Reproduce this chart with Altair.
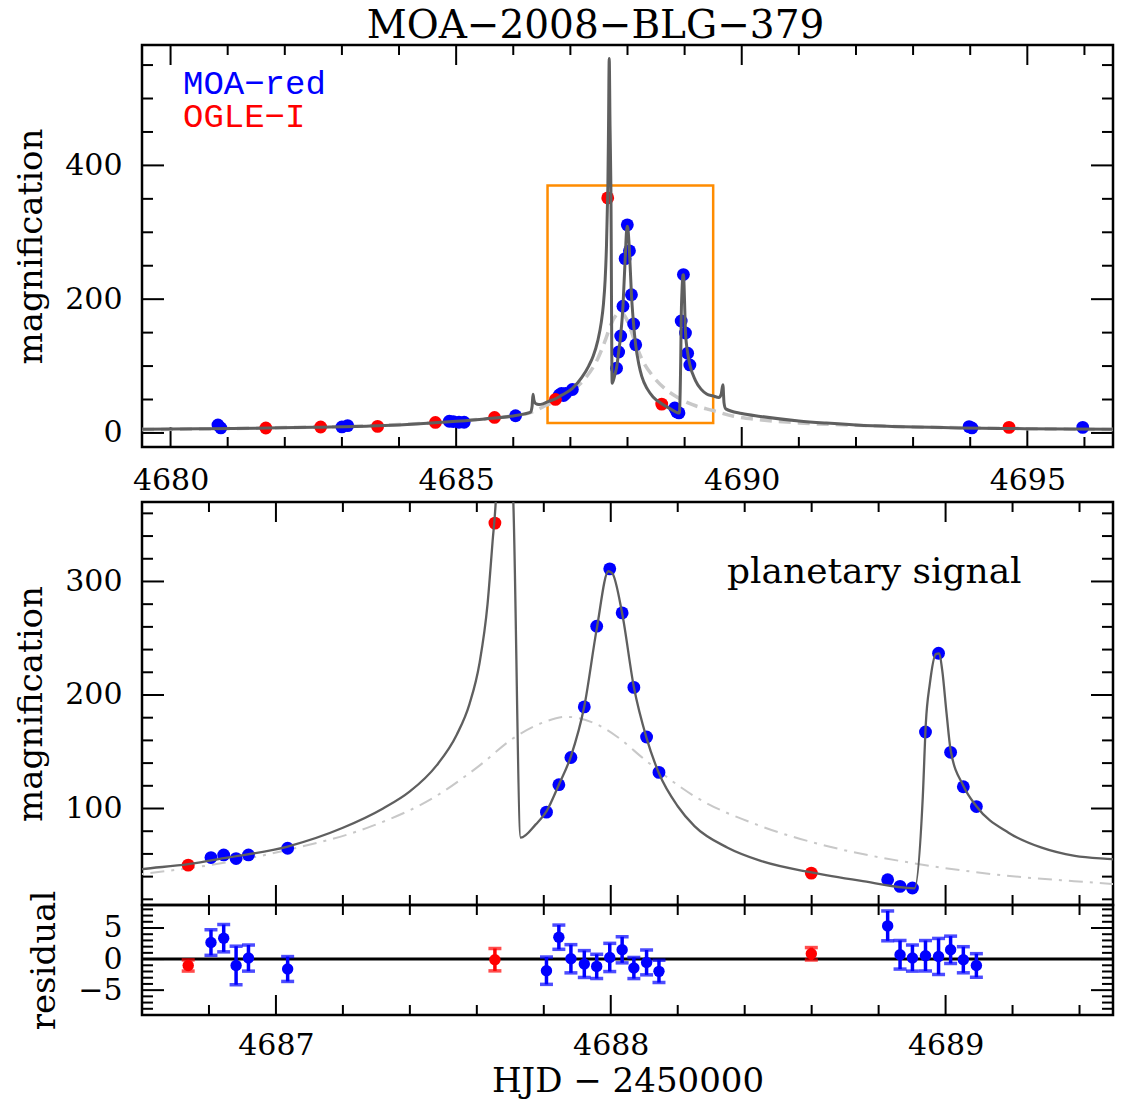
import altair as alt
import pandas as pd

# ---------------- data ----------------
moa_t = [4680.83, 4680.88, 4683.00, 4683.10, 4684.88, 4684.95, 4685.05, 4685.14, 4686.04,
         4686.806, 4686.844, 4686.881, 4686.918, 4687.035,
         4687.808, 4687.845, 4687.881, 4687.921, 4687.958, 4687.997, 4688.034, 4688.069,
         4688.107, 4688.144,
         4688.827, 4688.864, 4688.901, 4688.940, 4688.979, 4689.015, 4689.053, 4689.092,
         4693.98, 4694.03, 4695.97]
moa_A = [12.0, 7.5, 9.0, 11.0, 17.5, 17.0, 16.0, 16.0, 25.7,
         56.8, 59.1, 55.9, 59.1, 65.0,
         96.8, 121.0, 144.9, 189.5, 260.6, 311.1, 272.3, 206.7,
         163.0, 131.8,
         37.3, 31.4, 30.0, 167.4, 236.8, 149.5, 119.2, 101.7,
         9.5, 7.5, 8.3]

ogle_t = [4681.668, 4682.628, 4683.625, 4684.637, 4685.672, 4686.738, 4687.654, 4688.599, 4694.68]
ogle_A = [7.4, 8.9, 9.8, 15.7, 23.2, 50.1, 351.4, 43.1, 8.3]

# residuals (MOA-red)
res_moa_t = [4686.806, 4686.844, 4686.881, 4686.918, 4687.035,
             4687.808, 4687.845, 4687.881, 4687.921, 4687.958, 4687.997, 4688.034, 4688.069,
             4688.107, 4688.144,
             4688.827, 4688.864, 4688.901, 4688.940, 4688.979, 4689.015, 4689.053, 4689.092]
res_moa_r = [2.66, 3.36, -1.03, 0.16, -1.6,
             -1.87, 3.52, 0.05, -0.8, -1.18, 0.26, 1.49, -1.44,
             -0.54, -1.98,
             5.34, 0.69, 0.16, 0.53, 0.42, 1.49, -0.11, -1.03]
res_moa_e = [2.06, 2.2, 3.1, 2.1, 2.0,
             2.2, 1.95, 2.27, 2.16, 1.95, 2.27, 2.1, 1.7,
             2.0, 1.8,
             2.4, 2.3, 2.1, 2.45, 2.9, 2.2, 2.1, 1.9]
# residuals (OGLE-I)
res_ogle_t = [4686.738, 4687.654, 4688.599]
res_ogle_r = [-1.03, -0.1, 0.85]
res_ogle_e = [0.9, 1.8, 1.0]

# planetary (binary-lens) model curve
model_t = [4679.5, 4680.5, 4681.5, 4682.5, 4683.5, 4684.0, 4684.5, 4685.0, 4685.5, 4686.0,
           4686.2, 4686.3, 4686.33, 4686.345, 4686.36, 4686.39, 4686.45, 4686.52, 4686.6,
           4686.738, 4686.85, 4687.035, 4687.2, 4687.32, 4687.40, 4687.48, 4687.54, 4687.578,
           4687.608, 4687.632, 4687.647, 4687.657, 4687.668, 4687.680, 4687.694, 4687.709,
           4687.731, 4687.776, 4687.808, 4687.845, 4687.881, 4687.921, 4687.958, 4687.993,
           4688.005, 4688.034, 4688.069, 4688.107, 4688.144, 4688.2, 4688.25, 4688.349,
           4688.448, 4688.599, 4688.744, 4688.907, 4688.932, 4688.941, 4688.953, 4688.971,
           4688.981, 4688.99, 4689.003, 4689.015, 4689.053, 4689.092, 4689.188, 4689.287,
           4689.386, 4689.497, 4689.60, 4689.64, 4689.67, 4689.69, 4689.72, 4690.0,
           4690.33, 4691.0, 4691.48, 4692.0, 4692.64, 4693.3, 4693.8, 4694.5, 4694.96, 4696.5]
model_A = [5.5, 6.3, 7.2, 8.4, 10.3, 12.0, 14.5, 17.5, 21.0, 25.5,
           28.5, 31.0, 40.0, 58.0, 50.0, 44.0, 42.5, 43.5, 46.6,
           51.0, 56.5, 66.5, 83.0, 100.0, 115.0, 138.0, 165.0, 192.0,
           228.0, 280.0, 335.0, 373.0, 460.0, 560.0, 460.0, 370.0,
           74.3, 86.0, 97.5, 121.0, 146.0, 190.0, 258.0, 309.0,
           307.0, 272.0, 207.0, 162.0, 131.0, 102.0, 84.5, 65.5,
           53.9, 43.7, 36.4, 29.7, 110.8, 174.9, 210.0, 236.0,
           236.7, 221.6, 183.6, 151.6, 120.1, 102.0, 78.7, 65.5,
           58.3, 55.4, 53.0, 58.0, 72.0, 45.0, 36.0, 29.0,
           24.7, 18.0, 14.8, 12.0, 9.8, 8.5, 7.4, 6.8, 6.4, 5.5]

# single-lens model curve
single_t = [4679.5, 4682.0, 4684.0, 4685.0, 4685.5, 4686.0, 4686.3, 4686.6, 4686.8, 4687.035,
            4687.282, 4687.479, 4687.6, 4687.716, 4687.8, 4687.865, 4687.953, 4688.02, 4688.102,
            4688.25, 4688.448, 4688.645, 4688.892, 4689.139, 4689.497, 4689.86, 4690.3, 4691.0,
            4692.0, 4693.0, 4694.0, 4696.5]
single_A = [5.0, 8.0, 12.5, 17.5, 21.0, 25.5, 30.5, 42.2, 50.0, 63.5,
            84.0, 111.0, 136.0, 163.3, 176.0, 180.8, 174.9, 163.0, 142.9,
            110.8, 84.5, 67.0, 52.4, 42.2, 33.5, 25.0, 20.0, 15.0,
            11.5, 9.0, 7.5, 5.0]

# zoom window drawn in the top panel (= domain of the lower panels)
zoom_t = [4686.6, 4689.5]
zoom_A = [15, 370]

title_text = "MOA\u22122008\u2212BLG\u2212379"
legend_labels = ["MOA\u2212red", "OGLE\u2212I"]
note_text = "planetary signal"

top_xlabels = [4680, 4685, 4690, 4695]
top_ylabels = [0, 200, 400]
mid_ylabels = [100, 200, 300]
res_ylabels = [-5, 0, 5]
low_xlabels = [4687, 4688, 4689]

# ---------------- style ----------------
FONT = "DejaVu Serif"
BLUE = "#0000ff"
RED = "#ff0000"
DARK = "#5f5f5f"
LIGHT = "#c8c8c8"
ORANGE = "#ff8c00"
W = 971
H_TOP, H_MID, H_RES = 402, 403, 110

moa = pd.DataFrame({"t": moa_t, "A": moa_A})
ogle = pd.DataFrame({"t": ogle_t, "A": ogle_A})
model = pd.DataFrame({"t": model_t, "A": model_A})
single = pd.DataFrame({"t": single_t, "A": single_A})
rmoa = pd.DataFrame({"t": res_moa_t, "r": res_moa_r, "e": res_moa_e})
rmoa["lo"] = rmoa["r"] - rmoa["e"]
rmoa["hi"] = rmoa["r"] + rmoa["e"]
rogle = pd.DataFrame({"t": res_ogle_t, "r": res_ogle_r, "e": res_ogle_e})
rogle["lo"] = rogle["r"] - rogle["e"]
rogle["hi"] = rogle["r"] + rogle["e"]
box = pd.DataFrame({"t": [zoom_t[0]], "t2": [zoom_t[1]], "A": [zoom_A[0]], "A2": [zoom_A[1]]})


def frange(a, b, step, skip):
    vals = []
    n = int(round((b - a) / step))
    for i in range(n + 1):
        v = round(a + i * step, 4)
        if all(abs(v - s) > 1e-6 for s in skip):
            vals.append(v)
    return vals


def make_panel(xdom, ydom, w, h, xaxis, yaxis, xmaj, xmin, ymaj, ymin,
               xlen=(20, 10), ylen=(22, 11), top_len=None):
    xs = alt.Scale(domain=xdom, nice=False, zero=False)
    ys = alt.Scale(domain=ydom, nice=False, zero=False)

    def X(f):
        return alt.X(f, type="quantitative", scale=xs, axis=xaxis)

    def Y(f):
        return alt.Y(f, type="quantitative", scale=ys, axis=yaxis)

    layers = []
    tl = top_len or xlen
    for vals, L, Lt in ((xmaj, xlen[0], tl[0]), (xmin, xlen[1], tl[1])):
        d = pd.DataFrame({"v": vals})
        layers.append(alt.Chart(d).mark_rule(color="black", strokeWidth=2).encode(
            x=X("v"), y=alt.value(h), y2=alt.value(h - L)))
        layers.append(alt.Chart(d).mark_rule(color="black", strokeWidth=2).encode(
            x=X("v"), y=alt.value(0), y2=alt.value(Lt)))
    for vals, L in ((ymaj, ylen[0]), (ymin, ylen[1])):
        d = pd.DataFrame({"v": vals})
        layers.append(alt.Chart(d).mark_rule(color="black", strokeWidth=2).encode(
            y=Y("v"), x=alt.value(0), x2=alt.value(L)))
        layers.append(alt.Chart(d).mark_rule(color="black", strokeWidth=2).encode(
            y=Y("v"), x=alt.value(w), x2=alt.value(w - L)))
    return X, Y, layers


axis_common = dict(labelFlush=False, labelOverlap=False, labelBound=False, format="d")

# ---------------- top panel ----------------
top_xaxis = alt.Axis(values=top_xlabels, title=None, labelPadding=18, **axis_common)
top_yaxis = alt.Axis(values=top_ylabels, title="magnification", labelPadding=20,
                     titlePadding=16, **axis_common)
X, Y, tl = make_panel([4679.5, 4696.5], [-21, 580], W, H_TOP, top_xaxis, top_yaxis,
                      top_xlabels, frange(4680, 4696, 1, top_xlabels),
                      [0, 200, 400], frange(0, 550, 50, [0, 200, 400]))
top_layers = tl + [
    alt.Chart(box).mark_rect(fill=None, stroke=ORANGE, strokeWidth=2.5).encode(
        x=X("t"), x2="t2", y=Y("A"), y2="A2"),
    alt.Chart(single).mark_line(color=LIGHT, strokeWidth=3.5, strokeDash=[12, 7], clip=True,
                                interpolate="monotone").encode(x=X("t"), y=Y("A")),
    alt.Chart(moa).mark_circle(color=BLUE, opacity=1, size=165).encode(x=X("t"), y=Y("A")),
    alt.Chart(ogle).mark_circle(color=RED, opacity=1, size=165).encode(x=X("t"), y=Y("A")),
    alt.Chart(model).mark_line(color=DARK, strokeWidth=3, clip=True,
                               interpolate="monotone").encode(x=X("t"), y=Y("A")),
    alt.Chart(pd.DataFrame({"s": [legend_labels[0]]})).mark_text(
        align="left", baseline="alphabetic", font="Liberation Mono", fontSize=34, color=BLUE).encode(
        x=alt.value(41), y=alt.value(49), text="s:N"),
    alt.Chart(pd.DataFrame({"s": [legend_labels[1]]})).mark_text(
        align="left", baseline="alphabetic", font="Liberation Mono", fontSize=34, color=RED).encode(
        x=alt.value(41), y=alt.value(82), text="s:N"),
    alt.Chart(pd.DataFrame({"s": [title_text]})).mark_text(
        align="center", baseline="alphabetic", font=FONT, fontSize=39, color="black").encode(
        x=alt.value(W / 2 - 32), y=alt.value(-7), text="s:N"),
]
top = alt.layer(*top_layers).properties(width=W, height=H_TOP)

# ---------------- middle panel ----------------
mid_yaxis = alt.Axis(values=mid_ylabels, title="magnification", labelPadding=20,
                     titlePadding=16, **axis_common)
Xm, Ym, ml = make_panel([4686.6, 4689.5], [15, 370], W, H_MID, None, mid_yaxis,
                        low_xlabels, frange(4686.8, 4689.4, 0.2, low_xlabels),
                        mid_ylabels, frange(20, 360, 20, mid_ylabels))
mid_layers = ml + [
    alt.Chart(single).mark_line(color=LIGHT, strokeWidth=2, strokeDash=[14, 7, 3, 7], clip=True,
                                interpolate="monotone").encode(x=Xm("t"), y=Ym("A")),
    alt.Chart(moa).mark_circle(color=BLUE, opacity=1, size=165, clip=True).encode(x=Xm("t"), y=Ym("A")),
    alt.Chart(ogle).mark_circle(color=RED, opacity=1, size=165, clip=True).encode(x=Xm("t"), y=Ym("A")),
    alt.Chart(model).mark_line(color=DARK, strokeWidth=2.3, clip=True,
                               interpolate="monotone").encode(x=Xm("t"), y=Ym("A")),
    alt.Chart(pd.DataFrame({"s": [note_text]})).mark_text(
        align="left", baseline="alphabetic", font=FONT, fontSize=36, color="black").encode(
        x=alt.value(585), y=alt.value(81), text="s:N"),
]
mid = alt.layer(*mid_layers).properties(width=W, height=H_MID)

# ---------------- residual panel ----------------
res_xaxis = alt.Axis(values=low_xlabels, title="HJD \u2212 2450000", labelPadding=15,
                     titlePadding=4, **axis_common)
res_yaxis = alt.Axis(values=res_ylabels, title="residual", labelPadding=20,
                     titlePadding=16, **axis_common)
Xr, Yr, rl = make_panel([4686.6, 4689.5], [-9, 8.7], W, H_RES, res_xaxis, res_yaxis,
                        low_xlabels, frange(4686.8, 4689.4, 0.2, low_xlabels),
                        res_ylabels, frange(-8, 8, 1, res_ylabels), top_len=(10, 10))
res_layers = rl + [
    alt.Chart(pd.DataFrame({"r": [0]})).mark_rule(color="black", strokeWidth=3).encode(y=Yr("r")),
    alt.Chart(rmoa).mark_rule(color=BLUE, strokeWidth=3.5).encode(x=Xr("t"), y=Yr("lo"), y2="hi"),
    alt.Chart(rmoa).mark_tick(color=BLUE, orient="horizontal", size=13, thickness=3.5).encode(
        x=Xr("t"), y=Yr("lo")),
    alt.Chart(rmoa).mark_tick(color=BLUE, orient="horizontal", size=13, thickness=3.5).encode(
        x=Xr("t"), y=Yr("hi")),
    alt.Chart(rmoa).mark_circle(color=BLUE, opacity=1, size=130).encode(x=Xr("t"), y=Yr("r")),
    alt.Chart(rogle).mark_rule(color=RED, strokeWidth=3.5).encode(x=Xr("t"), y=Yr("lo"), y2="hi"),
    alt.Chart(rogle).mark_tick(color=RED, orient="horizontal", size=13, thickness=3.5).encode(
        x=Xr("t"), y=Yr("lo")),
    alt.Chart(rogle).mark_tick(color=RED, orient="horizontal", size=13, thickness=3.5).encode(
        x=Xr("t"), y=Yr("hi")),
    alt.Chart(rogle).mark_circle(color=RED, opacity=1, size=130).encode(x=Xr("t"), y=Yr("r")),
]
res = alt.layer(*res_layers).properties(width=W, height=H_RES)

lower = alt.vconcat(mid, res, spacing=0, bounds="flush")
chart = alt.vconcat(top, lower, spacing=55, bounds="flush").properties(
    padding={"left": 5, "top": -3, "right": 0, "bottom": 0}, background="white"
).configure_axis(
    domain=False, ticks=False, grid=False,
    labelFont=FONT, labelFontSize=30, labelColor="black",
    titleFont=FONT, titleFontSize=34, titleFontWeight="normal", titleColor="black",
).configure_view(stroke="black", strokeWidth=2.5)

chart.save("out.html", embed_options={"renderer": "svg", "actions": False})
